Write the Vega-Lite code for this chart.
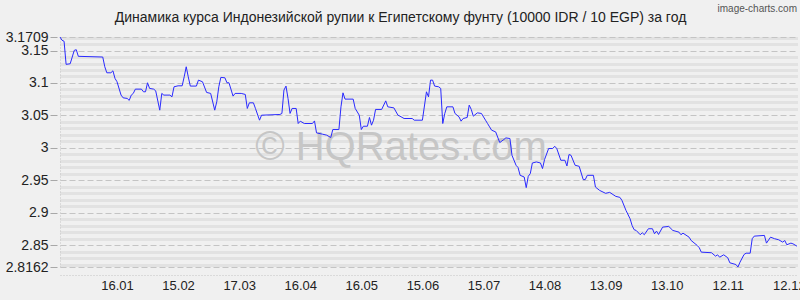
{
  "$schema": "https://vega.github.io/schema/vega-lite/v6.json",
  "width": 737,
  "height": 230,
  "autosize": "none",
  "padding": {"left": 60, "top": 37, "right": 3, "bottom": 33},
  "background": "#f0f0f0",
  "config": {"view": {"stroke": null}, "font": "Liberation Sans"},
  "title": {
    "text": "Динамика курса Индонезийской рупии к Египетскому фунту (10000 IDR / 10 EGP) за год",
    "anchor": "middle",
    "frame": "group",
    "offset": -32,
    "baseline": "alphabetic",
    "dx": -28,
    "fontSize": 14,
    "font": "Liberation Sans",
    "fontWeight": "normal",
    "color": "#222222"
  },
  "datasets": {
    "rates": [
      {"date": "2024-12-19", "value": 3.1709},
      {"date": "2024-12-20", "value": 3.1658},
      {"date": "2024-12-21", "value": 3.1643},
      {"date": "2024-12-22", "value": 3.1287},
      {"date": "2024-12-24", "value": 3.1296},
      {"date": "2024-12-26", "value": 3.1503},
      {"date": "2024-12-27", "value": 3.1513},
      {"date": "2024-12-28", "value": 3.1411},
      {"date": "2025-01-09", "value": 3.1400},
      {"date": "2025-01-10", "value": 3.1250},
      {"date": "2025-01-11", "value": 3.1157},
      {"date": "2025-01-13", "value": 3.1157},
      {"date": "2025-01-14", "value": 3.1188},
      {"date": "2025-01-15", "value": 3.1071},
      {"date": "2025-01-16", "value": 3.1019},
      {"date": "2025-01-18", "value": 3.0813},
      {"date": "2025-01-19", "value": 3.0771},
      {"date": "2025-01-21", "value": 3.0762},
      {"date": "2025-01-22", "value": 3.0731},
      {"date": "2025-01-23", "value": 3.0813},
      {"date": "2025-01-24", "value": 3.0839},
      {"date": "2025-01-25", "value": 3.0905},
      {"date": "2025-01-28", "value": 3.0905},
      {"date": "2025-01-29", "value": 3.0864},
      {"date": "2025-01-30", "value": 3.0864},
      {"date": "2025-01-31", "value": 3.1003},
      {"date": "2025-02-01", "value": 3.0916},
      {"date": "2025-02-03", "value": 3.0905},
      {"date": "2025-02-04", "value": 3.0879},
      {"date": "2025-02-06", "value": 3.0581},
      {"date": "2025-02-07", "value": 3.0839},
      {"date": "2025-02-08", "value": 3.0813},
      {"date": "2025-02-11", "value": 3.0813},
      {"date": "2025-02-12", "value": 3.0786},
      {"date": "2025-02-13", "value": 3.0941},
      {"date": "2025-02-15", "value": 3.0956},
      {"date": "2025-02-17", "value": 3.0956},
      {"date": "2025-02-18", "value": 3.1095},
      {"date": "2025-02-19", "value": 3.1250},
      {"date": "2025-02-20", "value": 3.1095},
      {"date": "2025-02-21", "value": 3.0952},
      {"date": "2025-02-24", "value": 3.0952},
      {"date": "2025-02-25", "value": 3.1044},
      {"date": "2025-02-27", "value": 3.1018},
      {"date": "2025-03-01", "value": 3.0854},
      {"date": "2025-03-03", "value": 3.0839},
      {"date": "2025-03-05", "value": 3.0581},
      {"date": "2025-03-06", "value": 3.0709},
      {"date": "2025-03-07", "value": 3.0941},
      {"date": "2025-03-08", "value": 3.1086},
      {"date": "2025-03-10", "value": 3.1080},
      {"date": "2025-03-11", "value": 3.1003},
      {"date": "2025-03-12", "value": 3.1003},
      {"date": "2025-03-14", "value": 3.0797},
      {"date": "2025-03-15", "value": 3.0839},
      {"date": "2025-03-18", "value": 3.0839},
      {"date": "2025-03-20", "value": 3.0823},
      {"date": "2025-03-21", "value": 3.0607},
      {"date": "2025-03-22", "value": 3.0694},
      {"date": "2025-03-24", "value": 3.0694},
      {"date": "2025-03-25", "value": 3.0607},
      {"date": "2025-03-27", "value": 3.0426},
      {"date": "2025-03-28", "value": 3.0503},
      {"date": "2025-04-06", "value": 3.0514},
      {"date": "2025-04-07", "value": 3.0530},
      {"date": "2025-04-08", "value": 3.0890},
      {"date": "2025-04-09", "value": 3.0952},
      {"date": "2025-04-10", "value": 3.0762},
      {"date": "2025-04-11", "value": 3.0530},
      {"date": "2025-04-12", "value": 3.0607},
      {"date": "2025-04-14", "value": 3.0607},
      {"date": "2025-04-15", "value": 3.0375},
      {"date": "2025-04-16", "value": 3.0411},
      {"date": "2025-04-18", "value": 3.0375},
      {"date": "2025-04-22", "value": 3.0375},
      {"date": "2025-04-23", "value": 3.0415},
      {"date": "2025-04-24", "value": 3.0230},
      {"date": "2025-04-27", "value": 3.0210},
      {"date": "2025-04-29", "value": 3.0195},
      {"date": "2025-05-01", "value": 3.0159},
      {"date": "2025-05-02", "value": 3.0282},
      {"date": "2025-05-05", "value": 3.0282},
      {"date": "2025-05-06", "value": 3.0632},
      {"date": "2025-05-07", "value": 3.0848},
      {"date": "2025-05-08", "value": 3.0751},
      {"date": "2025-05-12", "value": 3.0751},
      {"date": "2025-05-13", "value": 3.0607},
      {"date": "2025-05-15", "value": 3.0503},
      {"date": "2025-05-16", "value": 3.0282},
      {"date": "2025-05-17", "value": 3.0333},
      {"date": "2025-05-19", "value": 3.0333},
      {"date": "2025-05-20", "value": 3.0468},
      {"date": "2025-05-21", "value": 3.0349},
      {"date": "2025-05-22", "value": 3.0426},
      {"date": "2025-05-23", "value": 3.0592},
      {"date": "2025-05-26", "value": 3.0592},
      {"date": "2025-05-28", "value": 3.0724},
      {"date": "2025-05-29", "value": 3.0632},
      {"date": "2025-06-01", "value": 3.0616},
      {"date": "2025-06-03", "value": 3.0503},
      {"date": "2025-06-04", "value": 3.0488},
      {"date": "2025-06-06", "value": 3.0452},
      {"date": "2025-06-10", "value": 3.0452},
      {"date": "2025-06-11", "value": 3.0426},
      {"date": "2025-06-15", "value": 3.0426},
      {"date": "2025-06-17", "value": 3.0864},
      {"date": "2025-06-18", "value": 3.0786},
      {"date": "2025-06-19", "value": 3.1044},
      {"date": "2025-06-20", "value": 3.1044},
      {"date": "2025-06-21", "value": 3.0952},
      {"date": "2025-06-23", "value": 3.0941},
      {"date": "2025-06-24", "value": 3.0916},
      {"date": "2025-06-25", "value": 3.0375},
      {"date": "2025-06-26", "value": 3.0530},
      {"date": "2025-06-27", "value": 3.0632},
      {"date": "2025-06-30", "value": 3.0632},
      {"date": "2025-07-01", "value": 3.0530},
      {"date": "2025-07-03", "value": 3.0477},
      {"date": "2025-07-04", "value": 3.0411},
      {"date": "2025-07-05", "value": 3.0452},
      {"date": "2025-07-07", "value": 3.0468},
      {"date": "2025-07-08", "value": 3.0658},
      {"date": "2025-07-09", "value": 3.0592},
      {"date": "2025-07-10", "value": 3.0488},
      {"date": "2025-07-12", "value": 3.0539},
      {"date": "2025-07-14", "value": 3.0530},
      {"date": "2025-07-16", "value": 3.0426},
      {"date": "2025-07-17", "value": 3.0375},
      {"date": "2025-07-18", "value": 3.0323},
      {"date": "2025-07-19", "value": 3.0272},
      {"date": "2025-07-21", "value": 3.0245},
      {"date": "2025-07-23", "value": 3.0081},
      {"date": "2025-07-25", "value": 3.0128},
      {"date": "2025-07-26", "value": 3.0153},
      {"date": "2025-07-28", "value": 3.0143},
      {"date": "2025-07-29", "value": 2.9885},
      {"date": "2025-07-31", "value": 2.9731},
      {"date": "2025-08-01", "value": 2.9695},
      {"date": "2025-08-02", "value": 2.9576},
      {"date": "2025-08-04", "value": 2.9550},
      {"date": "2025-08-05", "value": 2.9386},
      {"date": "2025-08-06", "value": 2.9561},
      {"date": "2025-08-07", "value": 2.9602},
      {"date": "2025-08-08", "value": 2.9766},
      {"date": "2025-08-10", "value": 2.9782},
      {"date": "2025-08-12", "value": 2.9766},
      {"date": "2025-08-13", "value": 2.9680},
      {"date": "2025-08-14", "value": 2.9819},
      {"date": "2025-08-16", "value": 2.9989},
      {"date": "2025-08-18", "value": 2.9989},
      {"date": "2025-08-19", "value": 3.0024},
      {"date": "2025-08-20", "value": 2.9989},
      {"date": "2025-08-22", "value": 2.9808},
      {"date": "2025-08-24", "value": 2.9808},
      {"date": "2025-08-25", "value": 2.9720},
      {"date": "2025-08-26", "value": 2.9896},
      {"date": "2025-08-27", "value": 2.9885},
      {"date": "2025-08-29", "value": 2.9731},
      {"date": "2025-08-31", "value": 2.9715},
      {"date": "2025-09-02", "value": 2.9510},
      {"date": "2025-09-03", "value": 2.9510},
      {"date": "2025-09-04", "value": 2.9576},
      {"date": "2025-09-07", "value": 2.9576},
      {"date": "2025-09-08", "value": 2.9395},
      {"date": "2025-09-10", "value": 2.9344},
      {"date": "2025-09-13", "value": 2.9298},
      {"date": "2025-09-15", "value": 2.9313},
      {"date": "2025-09-18", "value": 2.9251},
      {"date": "2025-09-20", "value": 2.9236},
      {"date": "2025-09-21", "value": 2.9190},
      {"date": "2025-09-23", "value": 2.9035},
      {"date": "2025-09-25", "value": 2.8907},
      {"date": "2025-09-26", "value": 2.8803},
      {"date": "2025-09-27", "value": 2.8737},
      {"date": "2025-09-28", "value": 2.8726},
      {"date": "2025-09-30", "value": 2.8660},
      {"date": "2025-10-01", "value": 2.8690},
      {"date": "2025-10-02", "value": 2.8660},
      {"date": "2025-10-04", "value": 2.8752},
      {"date": "2025-10-06", "value": 2.8752},
      {"date": "2025-10-07", "value": 2.8675},
      {"date": "2025-10-08", "value": 2.8715},
      {"date": "2025-10-09", "value": 2.8664},
      {"date": "2025-10-11", "value": 2.8777},
      {"date": "2025-10-14", "value": 2.8788},
      {"date": "2025-10-16", "value": 2.8726},
      {"date": "2025-10-19", "value": 2.8700},
      {"date": "2025-10-20", "value": 2.8660},
      {"date": "2025-10-21", "value": 2.8684},
      {"date": "2025-10-24", "value": 2.8622},
      {"date": "2025-10-25", "value": 2.8571},
      {"date": "2025-10-28", "value": 2.8494},
      {"date": "2025-10-29", "value": 2.8459},
      {"date": "2025-10-30", "value": 2.8391},
      {"date": "2025-11-04", "value": 2.8382},
      {"date": "2025-11-06", "value": 2.8329},
      {"date": "2025-11-07", "value": 2.8350},
      {"date": "2025-11-08", "value": 2.8313},
      {"date": "2025-11-10", "value": 2.8350},
      {"date": "2025-11-12", "value": 2.8304},
      {"date": "2025-11-13", "value": 2.8227},
      {"date": "2025-11-16", "value": 2.8200},
      {"date": "2025-11-17", "value": 2.8162},
      {"date": "2025-11-18", "value": 2.8236},
      {"date": "2025-11-20", "value": 2.8355},
      {"date": "2025-11-21", "value": 2.8375},
      {"date": "2025-11-23", "value": 2.8375},
      {"date": "2025-11-24", "value": 2.8598},
      {"date": "2025-11-25", "value": 2.8638},
      {"date": "2025-11-30", "value": 2.8649},
      {"date": "2025-12-01", "value": 2.8530},
      {"date": "2025-12-03", "value": 2.8622},
      {"date": "2025-12-05", "value": 2.8598},
      {"date": "2025-12-07", "value": 2.8582},
      {"date": "2025-12-09", "value": 2.8545},
      {"date": "2025-12-10", "value": 2.8571},
      {"date": "2025-12-11", "value": 2.8505},
      {"date": "2025-12-13", "value": 2.8530},
      {"date": "2025-12-14", "value": 2.8520},
      {"date": "2025-12-16", "value": 2.8483}
    ]
  },
  "resolve": {"axis": {"y": "independent"}},
  "layer": [
    {
      "data": {"values": [{"label": "© HQRates.com"}]},
      "mark": {"type": "text", "fontSize": 40, "font": "Liberation Sans", "color": "#c6c6c6", "align": "center", "baseline": "alphabetic"},
      "encoding": {
        "x": {"datum": {"year": 2025, "month": 6, "date": 4, "hours": 12, "utc": true}, "type": "temporal", "scale": {"type": "utc"}},
        "y": {
          "datum": 2.9812,
          "type": "quantitative",
          "axis": {
            "orient": "left",
            "values": [2.82, 2.83, 2.84, 2.86, 2.87, 2.88, 2.89, 2.91, 2.92, 2.93, 2.94, 2.96, 2.97, 2.98, 2.99, 3.01, 3.02, 3.03, 3.04, 3.06, 3.07, 3.08, 3.09, 3.11, 3.12, 3.13, 3.14, 3.16, 3.17],
            "grid": true,
            "gridColor": "#d4d4d4",
            "gridDash": [1, 1],
            "gridWidth": 3,
            "labels": false,
            "ticks": false,
            "domain": true,
            "domainColor": "#c4c4c4",
            "domainDash": [1, 2],
            "title": null
          }
        },
        "text": {"field": "label"}
      }
    },
    {
      "data": {"name": "rates"},
      "mark": {"type": "line", "color": "#2a2aff", "strokeWidth": 1},
      "encoding": {
        "x": {
          "field": "date",
          "type": "temporal",
          "scale": {"type": "utc", "domain": [{"year": 2024, "month": 12, "date": 19, "utc": true}, {"year": 2025, "month": 12, "date": 16, "utc": true}]},
          "axis": {
            "values": [
              {"year": 2025, "month": 1, "date": 16, "utc": true},
              {"year": 2025, "month": 2, "date": 15, "utc": true},
              {"year": 2025, "month": 3, "date": 17, "utc": true},
              {"year": 2025, "month": 4, "date": 16, "utc": true},
              {"year": 2025, "month": 5, "date": 16, "utc": true},
              {"year": 2025, "month": 6, "date": 15, "utc": true},
              {"year": 2025, "month": 7, "date": 15, "utc": true},
              {"year": 2025, "month": 8, "date": 14, "utc": true},
              {"year": 2025, "month": 9, "date": 13, "utc": true},
              {"year": 2025, "month": 10, "date": 13, "utc": true},
              {"year": 2025, "month": 11, "date": 12, "utc": true},
              {"year": 2025, "month": 12, "date": 12, "utc": true}
            ],
            "format": "%d.%m",
            "grid": false,
            "ticks": false,
            "domain": true,
            "domainColor": "#c4c4c4",
            "domainDash": [1, 2],
            "offset": 8,
            "labelPadding": 4,
            "labelFontSize": 13,
            "labelFont": "Liberation Sans",
            "labelColor": "#222222",
            "labelOverlap": false,
            "labelFlush": false,
            "title": null
          }
        },
        "y": {
          "field": "value",
          "type": "quantitative",
          "scale": {"domain": [2.8162, 3.1709], "nice": false, "zero": false},
          "axis": {
            "orient": "left",
            "values": [2.8162, 2.85, 2.9, 2.95, 3, 3.05, 3.1, 3.15, 3.1709],
            "format": ".4~f",
            "grid": true,
            "gridColor": "#c4c4c4",
            "gridDash": [6, 3],
            "gridWidth": 1,
            "domain": false,
            "ticks": true,
            "tickSize": 7,
            "tickColor": "#a8a8a8",
            "offset": 3,
            "labelPadding": 2,
            "labelFontSize": 14,
            "labelFont": "Liberation Sans",
            "labelColor": "#222222",
            "labelOverlap": false,
            "labelFlush": false,
            "title": null
          }
        }
      }
    },
    {
      "data": {"values": [{"label": "image-charts.com"}]},
      "mark": {"type": "text", "fontSize": 10, "font": "Liberation Sans", "color": "#555555", "align": "right", "baseline": "alphabetic"},
      "encoding": {
        "x": {"datum": {"year": 2025, "month": 12, "date": 16, "utc": true}, "type": "temporal", "scale": {"type": "utc"}},
        "y": {"datum": 3.2095, "type": "quantitative", "axis": null},
        "text": {"field": "label"}
      }
    }
  ]
}
